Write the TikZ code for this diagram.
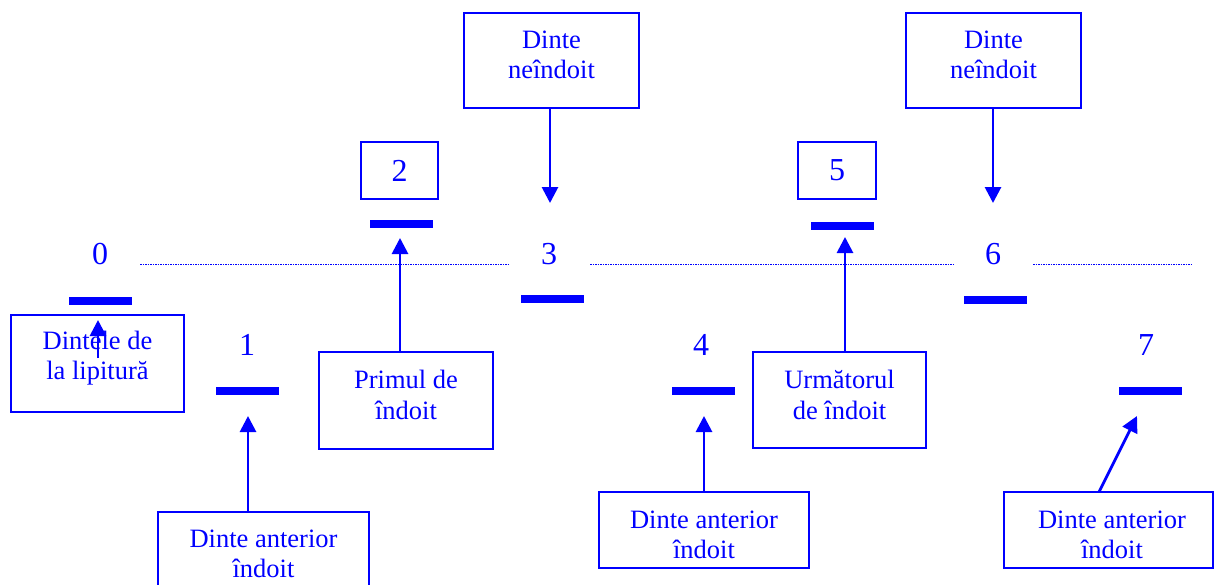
\documentclass[tikz,border=0pt]{standalone}
\usepackage{fontspec}
\setmainfont{Liberation Serif}
\usetikzlibrary{arrows.meta,calc}
\definecolor{ink}{RGB}{0,0,255}
\tikzset{
  box/.style={draw=ink, line width=2.3pt, inner sep=0pt},
  txt/.style={text=ink, font=\fontsize{26.5}{30.5}\selectfont, align=center, inner sep=0pt},
  num/.style={text=ink, font=\fontsize{32}{36}\selectfont, inner sep=0pt},
  bar/.style={fill=ink, minimum width=63pt, minimum height=8pt, inner sep=0pt},
  arr/.style={draw=ink, line width=2.8pt, -{Triangle[length=16pt,width=16pt]}},
  guide/.style={draw=ink, line width=1pt, dash pattern=on 1.5pt off 1pt},
}
\begin{document}
\begin{tikzpicture}[x=1pt,y=-1pt]
\useasboundingbox (0,0) rectangle (1215,584);

% dotted reference line
\coordinate (g1a) at (140,264); \coordinate (g1b) at (508,264);
\coordinate (g2a) at (590,264); \coordinate (g2b) at (955,264);
\coordinate (g3a) at (1033,264); \coordinate (g3b) at (1193,264);
\draw[guide] (g1a) -- (g1b);
\draw[guide] (g2a) -- (g2b);
\draw[guide] (g3a) -- (g3b);

% tooth numbers
\node[num] (d0) at (100,254) {0};
\node[num] (d1) at (247,345) {1};
\node[num] (d3) at (549,254) {3};
\node[num] (d4) at (701,345) {4};
\node[num] (d6) at (993,254) {6};
\node[num] (d7) at (1146,345) {7};
\node[box, minimum width=77pt, minimum height=57pt] (n2) at (399.5,170.5) {};
\node[num] (d2) at (n2.center) {2};
\node[box, minimum width=78pt, minimum height=57pt] (n5) at (837,170.5) {};
\node[num] (d5) at (n5.center) {5};

% teeth
\node[bar] (b0) at (100,301) {};
\node[bar] (b1) at (247.5,391) {};
\node[bar] (b2) at (401,223.5) {};
\node[bar] (b3) at (552,299) {};
\node[bar] (b4) at (703.5,391) {};
\node[bar] (b5) at (842.5,226) {};
\node[bar] (b6) at (995.5,300) {};
\node[bar] (b7) at (1150,391) {};

% text boxes
\node[box, minimum width=175pt, minimum height=95pt] (top3) at (551.5,60.5) {};
\node[txt] (top3t) at (551.5,55) {Dinte\\neîndoit};
\node[box, minimum width=175pt, minimum height=95pt] (top6) at (993.5,60.5) {};
\node[txt] (top6t) at (993.5,55) {Dinte\\neîndoit};
\node[box, minimum width=173pt, minimum height=97pt] (lip) at (97.5,363.5) {};
\node[txt] (lipt) at (97.5,358) {Dintele de\\la lipitură};
\node[box, minimum width=174pt, minimum height=97pt] (prim) at (406,400.5) {};
\node[txt] (primt) at (406,395) {Primul de\\îndoit};
\node[box, minimum width=173pt, minimum height=96pt] (urm) at (839.5,400) {};
\node[txt] (urmt) at (839.5,395) {Următorul\\de îndoit};
\node[box, minimum width=211pt, minimum height=88pt] (ant1) at (263.5,556) {};
\node[txt] (ant1t) at (263.5,554) {Dinte anterior\\îndoit};
\node[box, minimum width=210pt, minimum height=76pt] (ant4) at (704,530) {};
\node[txt] (ant4t) at (704,535) {Dinte anterior\\îndoit};
\node[box, minimum width=209pt, minimum height=76pt] (ant7) at (1108.5,530) {};
\node[txt] (ant7t) at (1112,535) {Dinte anterior\\îndoit};

% arrow tips and starts
\coordinate (s0) at (98,358);  \coordinate (t0) at (98,320);
\coordinate (t1) at (248,416);
\coordinate (t2) at (400,238);
\coordinate (t3) at (550,203);
\coordinate (t4) at (704,416);
\coordinate (t5) at (845,237);
\coordinate (t6) at (993,203);
\coordinate (s7) at (1099,492); \coordinate (t7) at (1137,416);

\draw[arr] (s0) -- (t0);
\draw[arr] (ant1.north -| t1) -- (t1);
\draw[arr] (prim.north -| t2) -- (t2);
\draw[arr] (top3.south -| t3) -- (t3);
\draw[arr] (ant4.north -| t4) -- (t4);
\draw[arr] (urm.north -| t5) -- (t5);
\draw[arr] (top6.south -| t6) -- (t6);
\draw[arr] (s7) -- (t7);
\end{tikzpicture}
\end{document}
